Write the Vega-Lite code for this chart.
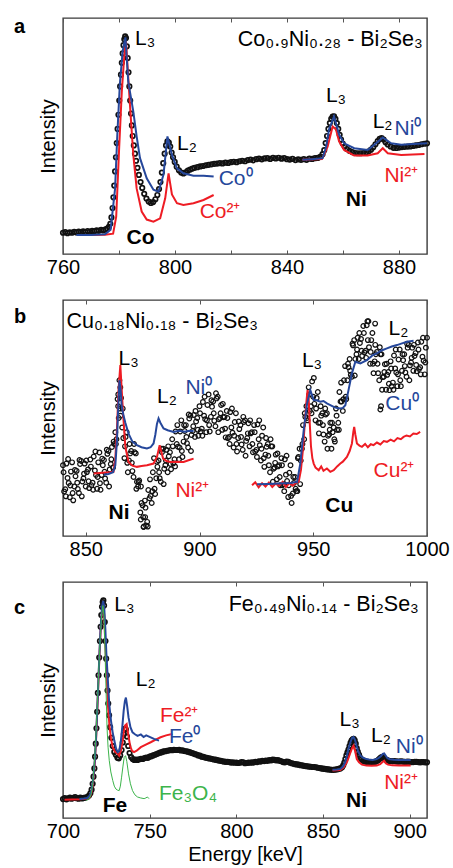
{
"$schema":"https://vega.github.io/schema/vega-lite/v6.json",
"padding":{"left":13,"top":16,"right":10,"bottom":5},
"spacing":46,
"bounds":"flush",
"config":{"font":"Liberation Sans","view":{"stroke":"#3a3a3a","strokeWidth":1.4},
"axis":{"domain":false,"grid":false,"labelFont":"Liberation Sans","labelFontSize":20,"labelColor":"#000","tickColor":"#555","tickWidth":1,"titleFont":"Liberation Sans","titleFontSize":20,"titleFontWeight":"normal","titleColor":"#000"},
"text":{"font":"Liberation Sans"}},
"datasets":{
"aP":[{"e":760,"i":9.0},{"e":760.8,"i":9.3},{"e":761.6,"i":8.8},{"e":762.4,"i":9.2},{"e":763.2,"i":9.0},{"e":764,"i":9.4},{"e":764.8,"i":9.1},{"e":765.6,"i":9.5},{"e":766.4,"i":9.2},{"e":767.2,"i":9.6},{"e":768,"i":9.3},{"e":768.8,"i":9.7},{"e":769.6,"i":9.4},{"e":770.4,"i":9.8},{"e":771.2,"i":9.6},{"e":772,"i":10.0},{"e":772.8,"i":9.8},{"e":773.6,"i":10.2},{"e":774.4,"i":10.0},{"e":775.2,"i":10.4},{"e":775.8,"i":10.8},{"e":776.4,"i":11.5},{"e":776.9,"i":12.8},{"e":777.3,"i":15.5},{"e":777.7,"i":19.5},{"e":778.0,"i":24},{"e":778.3,"i":29},{"e":778.6,"i":35},{"e":778.9,"i":41},{"e":779.2,"i":47},{"e":779.5,"i":53},{"e":779.8,"i":59},{"e":780.1,"i":65},{"e":780.4,"i":71},{"e":780.7,"i":76},{"e":781.0,"i":81},{"e":781.3,"i":85},{"e":781.6,"i":88.5},{"e":781.9,"i":91},{"e":782.2,"i":92.2},{"e":782.5,"i":91.5},{"e":782.8,"i":88},{"e":783.1,"i":83},{"e":783.4,"i":77},{"e":783.7,"i":71},{"e":784.0,"i":65},{"e":784.3,"i":59.5},{"e":784.6,"i":54.5},{"e":784.9,"i":50},{"e":785.3,"i":46},{"e":785.7,"i":42.5},{"e":786.1,"i":39.5},{"e":786.6,"i":36.5},{"e":787.1,"i":33.5},{"e":787.7,"i":30.5},{"e":788.3,"i":28},{"e":789,"i":25.5},{"e":789.8,"i":23.5},{"e":790.6,"i":22.2},{"e":791.4,"i":21.6},{"e":792.2,"i":22.0},{"e":793,"i":23.2},{"e":793.7,"i":25},{"e":794.3,"i":27.5},{"e":794.8,"i":30.5},{"e":795.3,"i":34.5},{"e":795.8,"i":38.5},{"e":796.3,"i":42.5},{"e":796.8,"i":46},{"e":797.3,"i":47.7},{"e":797.8,"i":47.2},{"e":798.3,"i":45.5},{"e":798.8,"i":43},{"e":799.3,"i":41},{"e":799.9,"i":39},{"e":800.6,"i":37},{"e":801.4,"i":35.5},{"e":802.2,"i":34.5},{"e":803,"i":34.1},{"e":803.8,"i":34.6},{"e":804.6,"i":35.3},{"e":805.4,"i":35.8},{"e":806.2,"i":36.2},{"e":807,"i":36.5},{"e":808,"i":36.8},{"e":809,"i":37.1},{"e":810,"i":37.3},{"e":811,"i":37.6},{"e":812,"i":37.8},{"e":813,"i":38.0},{"e":814,"i":38.2},{"e":815,"i":38.3},{"e":816,"i":38.5},{"e":817,"i":38.4},{"e":818,"i":38.7},{"e":819,"i":38.6},{"e":820,"i":38.9},{"e":821,"i":39.1},{"e":822,"i":38.9},{"e":823,"i":39.3},{"e":824,"i":39.5},{"e":825,"i":39.3},{"e":826,"i":39.8},{"e":827,"i":40.0},{"e":828,"i":39.7},{"e":829,"i":40.2},{"e":830,"i":40.4},{"e":831,"i":40.1},{"e":832,"i":40.5},{"e":833,"i":40.6},{"e":834,"i":40.3},{"e":835,"i":40.7},{"e":836,"i":40.5},{"e":837,"i":40.8},{"e":838,"i":40.4},{"e":839,"i":40.6},{"e":840,"i":40.2},{"e":841,"i":40.0},{"e":842,"i":40.3},{"e":843,"i":39.8},{"e":844,"i":40.1},{"e":845,"i":39.9},{"e":846,"i":40.2},{"e":847,"i":39.9},{"e":848,"i":40.4},{"e":849,"i":40.3},{"e":850,"i":40.6},{"e":851,"i":40.7},{"e":852,"i":41.3},{"e":852.7,"i":42.3},{"e":853.3,"i":44},{"e":853.8,"i":47},{"e":854.3,"i":50},{"e":854.8,"i":53},{"e":855.3,"i":55.5},{"e":855.8,"i":57.3},{"e":856.3,"i":58.2},{"e":856.8,"i":58.3},{"e":857.3,"i":57.3},{"e":857.8,"i":55.5},{"e":858.3,"i":53},{"e":858.8,"i":50.5},{"e":859.3,"i":48.5},{"e":859.9,"i":46.8},{"e":860.6,"i":45.5},{"e":861.4,"i":44.5},{"e":862.3,"i":43.7},{"e":863.3,"i":43.2},{"e":864.3,"i":42.8},{"e":865.3,"i":42.7},{"e":866.3,"i":42.7},{"e":867.3,"i":42.8},{"e":868.3,"i":43.0},{"e":869.2,"i":43.5},{"e":870,"i":44.2},{"e":870.8,"i":45.2},{"e":871.6,"i":46.5},{"e":872.4,"i":47.8},{"e":873.1,"i":48.8},{"e":873.8,"i":49.1},{"e":874.5,"i":48.5},{"e":875.2,"i":47.3},{"e":876,"i":46.4},{"e":877,"i":45.6},{"e":878,"i":45.0},{"e":879,"i":44.9},{"e":880,"i":45.1},{"e":881,"i":45.3},{"e":882,"i":45.4},{"e":883,"i":45.5},{"e":884,"i":45.6},{"e":885,"i":45.8},{"e":886,"i":46.0},{"e":887,"i":46.2},{"e":888,"i":46.5},{"e":889,"i":46.7},{"e":890,"i":46.9}],
"aL":[{"s":"Co2+","e":769.6,"i":8.1},{"s":"Co2+","e":775,"i":8.2},{"s":"Co2+","e":777.9,"i":8.6},{"s":"Co2+","e":779,"i":15.8},{"s":"Co2+","e":780,"i":43.4},{"s":"Co2+","e":781,"i":68.9},{"s":"Co2+","e":782,"i":85.8},{"s":"Co2+","e":782.5,"i":90.1},{"s":"Co2+","e":783.9,"i":63.4},{"s":"Co2+","e":785.1,"i":42.1},{"s":"Co2+","e":786.3,"i":27.8},{"s":"Co2+","e":788.1,"i":18.0},{"s":"Co2+","e":789.9,"i":14.6},{"s":"Co2+","e":792.3,"i":13.7},{"s":"Co2+","e":794.7,"i":15.1},{"s":"Co2+","e":796.5,"i":23.6},{"s":"Co2+","e":797.7,"i":34.2},{"s":"Co2+","e":798.9,"i":25.2},{"s":"Co2+","e":800.7,"i":21.5},{"s":"Co2+","e":803,"i":20.8},{"s":"Co2+","e":806.6,"i":21.5},{"s":"Co2+","e":810.2,"i":22.9},{"s":"Co2+","e":813.8,"i":25.0},
{"s":"Co0","e":764.8,"i":8.1},{"s":"Co0","e":770,"i":8.1},{"s":"Co0","e":775,"i":8.4},{"s":"Co0","e":777,"i":10.3},{"s":"Co0","e":778.6,"i":27.7},{"s":"Co0","e":779.4,"i":50.6},{"s":"Co0","e":780.3,"i":71.9},{"s":"Co0","e":781.3,"i":85.8},{"s":"Co0","e":782.3,"i":91.8},{"s":"Co0","e":783.3,"i":73},{"s":"Co0","e":785.1,"i":60.4},{"s":"Co0","e":786.3,"i":49.8},{"s":"Co0","e":787.5,"i":40.6},{"s":"Co0","e":789.9,"i":32.1},{"s":"Co0","e":792.3,"i":27.2},{"s":"Co0","e":794.1,"i":26.4},{"s":"Co0","e":795.9,"i":33.7},{"s":"Co0","e":797.3,"i":49.8},{"s":"Co0","e":798.9,"i":42.1},{"s":"Co0","e":800.7,"i":36.3},{"s":"Co0","e":803,"i":34.2},{"s":"Co0","e":806.6,"i":33.2},{"s":"Co0","e":810.2,"i":33.2},{"s":"Co0","e":813.8,"i":32.8},
{"s":"Ni2+","e":845.5,"i":39.9},{"s":"Ni2+","e":852.5,"i":40.2},{"s":"Ni2+","e":854.5,"i":45.5},{"s":"Ni2+","e":856.3,"i":54.0},{"s":"Ni2+","e":857.5,"i":52.8},{"s":"Ni2+","e":858.6,"i":47.7},{"s":"Ni2+","e":860.4,"i":44.1},{"s":"Ni2+","e":864,"i":41.7},{"s":"Ni2+","e":868.8,"i":41.7},{"s":"Ni2+","e":872.4,"i":42.7},{"s":"Ni2+","e":874.2,"i":44.8},{"s":"Ni2+","e":876,"i":42.7},{"s":"Ni2+","e":880.8,"i":42.0},{"s":"Ni2+","e":889.1,"i":42.4},
{"s":"Ni0","e":845.5,"i":39.9},{"s":"Ni0","e":849,"i":40.2},{"s":"Ni0","e":852.7,"i":40.6},{"s":"Ni0","e":854,"i":45.5},{"s":"Ni0","e":855,"i":52.8},{"s":"Ni0","e":856.8,"i":58.3},{"s":"Ni0","e":858.6,"i":50.6},{"s":"Ni0","e":860.4,"i":46.9},{"s":"Ni0","e":864,"i":44.8},{"s":"Ni0","e":868.8,"i":44.1},{"s":"Ni0","e":871.2,"i":46.3},{"s":"Ni0","e":874.2,"i":49.4},{"s":"Ni0","e":877.2,"i":46.9},{"s":"Ni0","e":880.8,"i":46.3},{"s":"Ni0","e":885,"i":46.6},{"s":"Ni0","e":890,"i":46.9}],
"bP":[{"e":840,"i":30},{"e":841,"i":19.8},{"e":842,"i":24.6},{"e":843,"i":16.4},{"e":844,"i":31.2},{"e":845,"i":21},{"e":846,"i":27.6},{"e":847,"i":18.2},{"e":848,"i":31.8},{"e":849,"i":24.4},{"e":850,"i":21},{"e":851,"i":28.2},{"e":852,"i":32.4},{"e":853,"i":22.6},{"e":854,"i":27.8},{"e":855,"i":20},{"e":856,"i":35.4},{"e":857,"i":25.8},{"e":858,"i":32.2},{"e":859,"i":22.6},{"e":860,"i":36},{"e":861,"i":30.5},{"e":862,"i":29},{"e":863,"i":44},{"e":864,"i":58},{"e":865,"i":54},{"e":866,"i":46},{"e":867,"i":33},{"e":868,"i":44},{"e":869,"i":32},{"e":870,"i":36},{"e":871,"i":25},{"e":872,"i":35},{"e":873,"i":21},{"e":874,"i":10},{"e":875,"i":13},{"e":876,"i":15},{"e":877,"i":6},{"e":878,"i":16},{"e":879,"i":14},{"e":880,"i":33},{"e":881,"i":24.5},{"e":882,"i":32},{"e":883,"i":23},{"e":884,"i":37},{"e":885,"i":30},{"e":886,"i":27},{"e":887,"i":35.5},{"e":888,"i":41},{"e":889,"i":32.5},{"e":890,"i":39},{"e":891,"i":32.5},{"e":892,"i":49},{"e":893,"i":40},{"e":894,"i":47},{"e":895,"i":37.5},{"e":896,"i":51},{"e":897,"i":44.5},{"e":898,"i":42},{"e":899,"i":50},{"e":900,"i":55},{"e":901,"i":45.5},{"e":902,"i":51},{"e":903,"i":44},{"e":904,"i":60},{"e":905,"i":50.5},{"e":906,"i":57},{"e":907,"i":46.5},{"e":908,"i":59},{"e":909,"i":50},{"e":910,"i":45},{"e":911,"i":50.5},{"e":912,"i":53},{"e":913,"i":42},{"e":914,"i":46},{"e":915,"i":37.5},{"e":916,"i":52},{"e":917,"i":41.5},{"e":918,"i":47},{"e":919,"i":36.5},{"e":920,"i":49},{"e":921,"i":41.5},{"e":922,"i":38},{"e":923,"i":44},{"e":924,"i":47},{"e":925,"i":36.5},{"e":926,"i":41},{"e":927,"i":32},{"e":928,"i":46},{"e":929,"i":34.5},{"e":930,"i":39},{"e":931,"i":27},{"e":932,"i":38},{"e":933,"i":29},{"e":934,"i":24},{"e":935,"i":30},{"e":936,"i":33},{"e":937,"i":22},{"e":938,"i":26},{"e":939,"i":16.5},{"e":940,"i":30},{"e":941,"i":18},{"e":942,"i":25},{"e":943,"i":19},{"e":944,"i":37},{"e":945,"i":37},{"e":946,"i":41},{"e":947,"i":55},{"e":948,"i":63},{"e":949,"i":55},{"e":950,"i":59},{"e":951,"i":49},{"e":952,"i":61},{"e":953,"i":48},{"e":954,"i":52},{"e":955,"i":40},{"e":956,"i":52},{"e":957,"i":43},{"e":958,"i":37},{"e":959,"i":46},{"e":960,"i":54},{"e":961,"i":48},{"e":962,"i":57},{"e":963,"i":53},{"e":964,"i":72},{"e":965,"i":66},{"e":966,"i":75},{"e":967,"i":67.5},{"e":968,"i":83},{"e":969,"i":77},{"e":970,"i":75},{"e":971,"i":83.5},{"e":972,"i":89},{"e":973,"i":78.5},{"e":974,"i":83},{"e":975,"i":73},{"e":976,"i":86},{"e":977,"i":74},{"e":978,"i":78},{"e":979,"i":66},{"e":980,"i":77},{"e":981,"i":67.5},{"e":982,"i":62},{"e":983,"i":69.5},{"e":984,"i":74},{"e":985,"i":65},{"e":986,"i":71},{"e":987,"i":63.5},{"e":988,"i":79},{"e":989,"i":70},{"e":990,"i":77},{"e":991,"i":67.5},{"e":992,"i":81},{"e":993,"i":73.5},{"e":994,"i":70},{"e":995,"i":77.5},{"e":996,"i":82},{"e":997,"i":71.5},{"e":998,"i":76},{"e":999,"i":68.5},{"e":1000,"i":84},
{"e":840.5,"i":18.9},{"e":841.5,"i":30.7},{"e":842.5,"i":22.5},{"e":843.5,"i":27.3},{"e":844.5,"i":15.1},{"e":845.5,"i":25.3},{"e":846.5,"i":19.9},{"e":847.5,"i":30.5},{"e":848.5,"i":23.1},{"e":849.5,"i":30.7},{"e":850.5,"i":27.1},{"e":851.5,"i":20.3},{"e":852.5,"i":21.5},{"e":853.5,"i":33.7},{"e":854.5,"i":25.9},{"e":855.5,"i":31.2},{"e":856.5,"i":19.6},{"e":857.5,"i":30},{"e":858.5,"i":24.4},{"e":859.5,"i":34.8},{"e":860.5,"i":28.2},{"e":861.5,"i":37.7},{"e":862.5,"i":39},{"e":863.5,"i":41},{"e":864.5,"i":50},{"e":865.5,"i":58.5},{"e":866.5,"i":41.5},{"e":867.5,"i":42},{"e":868.5,"i":27},{"e":869.5,"i":35},{"e":870.5,"i":27.5},{"e":871.5,"i":35.5},{"e":872.5,"i":23},{"e":873.5,"i":23.5},{"e":874.5,"i":14},{"e":875.5,"i":4},{"e":876.5,"i":4.5},{"e":877.5,"i":19.5},{"e":878.5,"i":17},{"e":879.5,"i":27},{"e":880.5,"i":17.8},{"e":881.5,"i":29.3},{"e":882.5,"i":24.5},{"e":883.5,"i":35.5},{"e":884.5,"i":28.5},{"e":885.5,"i":36.5},{"e":886.5,"i":33.8},{"e":887.5,"i":28.3},{"e":888.5,"i":30.8},{"e":889.5,"i":44.3},{"e":890.5,"i":37.8},{"e":891.5,"i":44.3},{"e":892.5,"i":33.5},{"e":893.5,"i":44.5},{"e":894.5,"i":39.3},{"e":895.5,"i":49.8},{"e":896.5,"i":42.8},{"e":897.5,"i":51.3},{"e":898.5,"i":48.5},{"e":899.5,"i":42.5},{"e":900.5,"i":44.3},{"e":901.5,"i":56.8},{"e":902.5,"i":49.5},{"e":903.5,"i":55.5},{"e":904.5,"i":44.3},{"e":905.5,"i":54.8},{"e":906.5,"i":48.8},{"e":907.5,"i":58.3},{"e":908.5,"i":49.5},{"e":909.5,"i":55.5},{"e":910.5,"i":50.3},{"e":911.5,"i":41.8},{"e":912.5,"i":41.5},{"e":913.5,"i":52.5},{"e":914.5,"i":43.8},{"e":915.5,"i":48.3},{"e":916.5,"i":35.8},{"e":917.5,"i":45.3},{"e":918.5,"i":38.8},{"e":919.5,"i":48.3},{"e":920.5,"i":40.3},{"e":921.5,"i":47.8},{"e":922.5,"i":43.5},{"e":923.5,"i":35.5},{"e":924.5,"i":35.8},{"e":925.5,"i":47.3},{"e":926.5,"i":38.5},{"e":927.5,"i":42.5},{"e":928.5,"i":29.3},{"e":929.5,"i":37.8},{"e":930.5,"i":30},{"e":931.5,"i":38},{"e":932.5,"i":28.5},{"e":933.5,"i":34.5},{"e":934.5,"i":29.5},{"e":935.5,"i":21.5},{"e":936.5,"i":21.5},{"e":937.5,"i":32.5},{"e":938.5,"i":23.3},{"e":939.5,"i":26.8},{"e":940.5,"i":14},{"e":941.5,"i":22.5},{"e":942.5,"i":19},{"e":943.5,"i":33.5},{"e":944.5,"i":32},{"e":945.5,"i":47},{"e":946.5,"i":50.5},{"e":947.5,"i":49},{"e":948.5,"i":53},{"e":949.5,"i":65.5},{"e":950.5,"i":56},{"e":951.5,"i":58.5},{"e":952.5,"i":43.5},{"e":953.5,"i":51},{"e":954.5,"i":43},{"e":955.5,"i":51.5},{"e":956.5,"i":42.5},{"e":957.5,"i":48},{"e":958.5,"i":44},{"e":959.5,"i":40},{"e":960.5,"i":45},{"e":961.5,"i":61},{"e":962.5,"i":57},{"e":963.5,"i":66},{"e":964.5,"i":58},{"e":965.5,"i":71.5},{"e":966.5,"i":68.3},{"e":967.5,"i":80.8},{"e":968.5,"i":75},{"e":969.5,"i":84},{"e":970.5,"i":81.8},{"e":971.5,"i":76.3},{"e":972.5,"i":77.8},{"e":973.5,"i":89.3},{"e":974.5,"i":80},{"e":975.5,"i":83},{"e":976.5,"i":69},{"e":977.5,"i":77},{"e":978.5,"i":69},{"e":979.5,"i":77},{"e":980.5,"i":67.3},{"e":981.5,"i":72.8},{"e":982.5,"i":68.3},{"e":983.5,"i":61.8},{"e":984.5,"i":63.5},{"e":985.5,"i":76.5},{"e":986.5,"i":69.3},{"e":987.5,"i":74.8},{"e":988.5,"i":63.5},{"e":989.5,"i":74.5},{"e":990.5,"i":69.3},{"e":991.5,"i":79.8},{"e":992.5,"i":72.3},{"e":993.5,"i":79.8},{"e":994.5,"i":76.3},{"e":995.5,"i":69.8},{"e":996.5,"i":70.8},{"e":997.5,"i":82.3},{"e":998.5,"i":74.3},{"e":999.5,"i":79.8},
{"e":840.25,"i":27},{"e":841.25,"i":16.8},{"e":842.25,"i":32.6},{"e":843.25,"i":21.4},{"e":844.25,"i":18.2},{"e":845.25,"i":28},{"e":846.25,"i":22.6},{"e":847.25,"i":32.2},{"e":848.25,"i":16.8},{"e":849.25,"i":26.4},{"e":850.25,"i":32},{"e":851.25,"i":23.2},{"e":852.25,"i":29.4},{"e":853.25,"i":19.6},{"e":854.25,"i":35.8},{"e":855.25,"i":25},{"e":856.25,"i":22.4},{"e":857.25,"i":32.8},{"e":858.25,"i":27.2},{"e":859.25,"i":36.6},{"e":860.25,"i":21},{"e":861.25,"i":32.5},{"e":862.25,"i":40},{"e":863.25,"i":39},{"e":864.25,"i":55},{"e":865.25,"i":51},{"e":866.25,"i":54},{"e":867.25,"i":38},{"e":868.25,"i":31},{"e":869.25,"i":39},{"e":870.25,"i":31},{"e":871.25,"i":39},{"e":872.25,"i":20},{"e":873.25,"i":23},{"e":874.25,"i":21},{"e":875.25,"i":8},{"e":876.25,"i":12},{"e":877.25,"i":4},{"e":878.25,"i":24},{"e":879.25,"i":19},{"e":880.25,"i":20},{"e":881.25,"i":31.5},{"e":882.25,"i":27},{"e":883.25,"i":37},{"e":884.25,"i":22},{"e":885.25,"i":32},{"e":886.25,"i":38},{"e":887.25,"i":30.5},{"e":888.25,"i":38},{"e":889.25,"i":29.5},{"e":890.25,"i":47},{"e":891.25,"i":37.5},{"e":892.25,"i":36},{"e":893.25,"i":47},{"e":894.25,"i":42},{"e":895.25,"i":51.5},{"e":896.25,"i":36},{"e":897.25,"i":46.5},{"e":898.25,"i":53},{"e":899.25,"i":45},{"e":900.25,"i":52},{"e":901.25,"i":42.5},{"e":902.25,"i":59},{"e":903.25,"i":49},{"e":904.25,"i":47},{"e":905.25,"i":57.5},{"e":906.25,"i":52},{"e":907.25,"i":60.5},{"e":908.25,"i":44},{"e":909.25,"i":52},{"e":910.25,"i":56},{"e":911.25,"i":45.5},{"e":912.25,"i":50},{"e":913.25,"i":39},{"e":914.25,"i":54},{"e":915.25,"i":42.5},{"e":916.25,"i":39},{"e":917.25,"i":48.5},{"e":918.25,"i":42},{"e":919.25,"i":50.5},{"e":920.25,"i":34},{"e":921.25,"i":43.5},{"e":922.25,"i":49},{"e":923.25,"i":39},{"e":924.25,"i":44},{"e":925.25,"i":33.5},{"e":926.25,"i":49},{"e":927.25,"i":37},{"e":928.25,"i":33},{"e":929.25,"i":41.5},{"e":930.25,"i":34},{"e":931.25,"i":41},{"e":932.25,"i":23},{"e":933.25,"i":31},{"e":934.25,"i":35},{"e":935.25,"i":25},{"e":936.25,"i":30},{"e":937.25,"i":19},{"e":938.25,"i":34},{"e":939.25,"i":21.5},{"e":940.25,"i":17},{"e":941.25,"i":25},{"e":942.25,"i":20},{"e":943.25,"i":33},{"e":944.25,"i":22},{"e":945.25,"i":39},{"e":946.25,"i":52},{"e":947.25,"i":50},{"e":948.25,"i":60},{"e":949.25,"i":52},{"e":950.25,"i":67},{"e":951.25,"i":54},{"e":952.25,"i":48},{"e":953.25,"i":55},{"e":954.25,"i":47},{"e":955.25,"i":54},{"e":956.25,"i":37},{"e":957.25,"i":45},{"e":958.25,"i":48},{"e":959.25,"i":41},{"e":960.25,"i":51},{"e":961.25,"i":45},{"e":962.25,"i":65},{"e":963.25,"i":58},{"e":964.25,"i":59},{"e":965.25,"i":73},{"e":966.25,"i":70},{"e":967.25,"i":81.5},{"e":968.25,"i":68},{"e":969.25,"i":79},{"e":970.25,"i":86},{"e":971.25,"i":78.5},{"e":972.25,"i":86},{"e":973.25,"i":75.5},{"e":974.25,"i":91},{"e":975.25,"i":78},{"e":976.25,"i":73},{"e":977.25,"i":81},{"e":978.25,"i":73},{"e":979.25,"i":80},{"e":980.25,"i":62},{"e":981.25,"i":69.5},{"e":982.25,"i":73},{"e":983.25,"i":64.5},{"e":984.25,"i":71},{"e":985.25,"i":62},{"e":986.25,"i":79},{"e":987.25,"i":68.5},{"e":988.25,"i":66},{"e":989.25,"i":77},{"e":990.25,"i":72},{"e":991.25,"i":81.5},{"e":992.25,"i":66},{"e":993.25,"i":75.5},{"e":994.25,"i":81},{"e":995.25,"i":72.5},{"e":996.25,"i":79},{"e":997.25,"i":68.5},{"e":998.25,"i":84},{"e":999.25,"i":73.5},
{"e":864.8,"i":66},{"e":865.2,"i":63},{"e":864.3,"i":60},{"e":977.2,"i":90},{"e":973.8,"i":91},{"e":979.5,"i":53.6},{"e":979.8,"i":55},{"e":875.4,"i":3.8},{"e":874.2,"i":7},{"e":876.1,"i":8}],
"bL":[{"s":"Ni2+","e":853.5,"i":26.5},{"s":"Ni2+","e":856,"i":26.7},{"s":"Ni2+","e":858.5,"i":26.9},{"s":"Ni2+","e":860.5,"i":27.0},{"s":"Ni2+","e":862.2,"i":27.2},{"s":"Ni2+","e":863,"i":33},{"s":"Ni2+","e":863.7,"i":44.8},{"s":"Ni2+","e":864.4,"i":61.8},{"s":"Ni2+","e":865.2,"i":72.4},{"s":"Ni2+","e":865.8,"i":62},{"s":"Ni2+","e":866.4,"i":51.9},{"s":"Ni2+","e":867.4,"i":37.8},{"s":"Ni2+","e":868.8,"i":31.4},{"s":"Ni2+","e":870.5,"i":29.8},{"s":"Ni2+","e":872.5,"i":29.3},{"s":"Ni2+","e":874.5,"i":29.7},{"s":"Ni2+","e":876.9,"i":30.0},{"s":"Ni2+","e":879.8,"i":30.7},{"s":"Ni2+","e":881.3,"i":33.5},{"s":"Ni2+","e":882.5,"i":38.5},{"s":"Ni2+","e":884,"i":32.8},{"s":"Ni2+","e":885.5,"i":31.8},{"s":"Ni2+","e":887.2,"i":31.4},{"s":"Ni2+","e":890,"i":31.5},{"s":"Ni2+","e":893,"i":31.4},{"s":"Ni2+","e":895.5,"i":32.2},{"s":"Ni2+","e":897.4,"i":32.8},
{"s":"Ni0","e":858,"i":26},{"s":"Ni0","e":860,"i":26.3},{"s":"Ni0","e":862,"i":27},{"s":"Ni0","e":863,"i":30},{"s":"Ni0","e":863.7,"i":40},{"s":"Ni0","e":864.3,"i":55},{"s":"Ni0","e":864.8,"i":66},{"s":"Ni0","e":865.3,"i":62},{"s":"Ni0","e":865.8,"i":55},{"s":"Ni0","e":866.5,"i":51.5},{"s":"Ni0","e":867.4,"i":48},{"s":"Ni0","e":868.8,"i":43.4},{"s":"Ni0","e":870.5,"i":40},{"s":"Ni0","e":872.5,"i":38.5},{"s":"Ni0","e":874.5,"i":37.6},{"s":"Ni0","e":876.9,"i":37.1},{"s":"Ni0","e":878.5,"i":37.6},{"s":"Ni0","e":879.8,"i":39.2},{"s":"Ni0","e":880.6,"i":43},{"s":"Ni0","e":881.3,"i":47.5},{"s":"Ni0","e":882,"i":49.8},{"s":"Ni0","e":882.8,"i":48},{"s":"Ni0","e":884.2,"i":45.6},{"s":"Ni0","e":886,"i":44.8},{"s":"Ni0","e":888.6,"i":44.1},{"s":"Ni0","e":891,"i":44.6},{"s":"Ni0","e":893.5,"i":44.2},{"s":"Ni0","e":895.5,"i":44.6},{"s":"Ni0","e":897.4,"i":44.5},
{"s":"Cu2+","e":923.1,"i":21.5},{"s":"Cu2+","e":924.5,"i":22.8},{"s":"Cu2+","e":926,"i":20.6},{"s":"Cu2+","e":927.5,"i":22.4},{"s":"Cu2+","e":929,"i":21.0},{"s":"Cu2+","e":930.5,"i":22.6},{"s":"Cu2+","e":932,"i":20.8},{"s":"Cu2+","e":933.5,"i":22.2},{"s":"Cu2+","e":935,"i":21.2},{"s":"Cu2+","e":936.5,"i":22.9},{"s":"Cu2+","e":938,"i":20.7},{"s":"Cu2+","e":939.5,"i":22.5},{"s":"Cu2+","e":941,"i":21.3},{"s":"Cu2+","e":942.5,"i":22.7},{"s":"Cu2+","e":943.6,"i":23},{"s":"Cu2+","e":944.6,"i":28},{"s":"Cu2+","e":945.5,"i":37},{"s":"Cu2+","e":946.3,"i":48},{"s":"Cu2+","e":947,"i":57},{"s":"Cu2+","e":947.5,"i":61.8},{"s":"Cu2+","e":948,"i":58},{"s":"Cu2+","e":948.5,"i":47},{"s":"Cu2+","e":949,"i":38},{"s":"Cu2+","e":949.6,"i":33},{"s":"Cu2+","e":950.2,"i":30.7},{"s":"Cu2+","e":951,"i":29},{"s":"Cu2+","e":952.4,"i":27.9},{"s":"Cu2+","e":953.5,"i":29.5},{"s":"Cu2+","e":954.5,"i":27.6},{"s":"Cu2+","e":956,"i":28.6},{"s":"Cu2+","e":957.5,"i":27.2},{"s":"Cu2+","e":959,"i":27.9},{"s":"Cu2+","e":960.5,"i":29.5},{"s":"Cu2+","e":961.9,"i":30.7},{"s":"Cu2+","e":963,"i":31.5},{"s":"Cu2+","e":964.8,"i":33.5},{"s":"Cu2+","e":966,"i":36},{"s":"Cu2+","e":967,"i":39.2},{"s":"Cu2+","e":967.6,"i":44},{"s":"Cu2+","e":968,"i":46.2},{"s":"Cu2+","e":968.5,"i":43},{"s":"Cu2+","e":969.2,"i":39.2},{"s":"Cu2+","e":970.3,"i":38.3},{"s":"Cu2+","e":971.4,"i":37.8},{"s":"Cu2+","e":972.8,"i":39},{"s":"Cu2+","e":974,"i":37.6},{"s":"Cu2+","e":975.3,"i":38.9},{"s":"Cu2+","e":976.5,"i":38.5},{"s":"Cu2+","e":978,"i":39.6},{"s":"Cu2+","e":979.5,"i":38.8},{"s":"Cu2+","e":981,"i":40.2},{"s":"Cu2+","e":982.4,"i":39.9},{"s":"Cu2+","e":984,"i":40.8},{"s":"Cu2+","e":985.5,"i":40.1},{"s":"Cu2+","e":987,"i":41.5},{"s":"Cu2+","e":988.5,"i":41},{"s":"Cu2+","e":989.7,"i":42.0},{"s":"Cu2+","e":991,"i":42.6},{"s":"Cu2+","e":992.5,"i":42.2},{"s":"Cu2+","e":994,"i":43.4},{"s":"Cu2+","e":995.5,"i":43.2},{"s":"Cu2+","e":997,"i":44.1},
{"s":"Cu0","e":925.3,"i":21.9},{"s":"Cu0","e":930,"i":22.0},{"s":"Cu0","e":935,"i":22.2},{"s":"Cu0","e":940,"i":22.5},{"s":"Cu0","e":942.9,"i":22.9},{"s":"Cu0","e":944.3,"i":30.7},{"s":"Cu0","e":945.8,"i":44.8},{"s":"Cu0","e":947.3,"i":56.2},{"s":"Cu0","e":948.7,"i":61.8},{"s":"Cu0","e":950.2,"i":57.6},{"s":"Cu0","e":951.5,"i":57.5},{"s":"Cu0","e":953.1,"i":56.9},{"s":"Cu0","e":954.5,"i":57.2},{"s":"Cu0","e":956,"i":56.2},{"s":"Cu0","e":957.5,"i":55.5},{"s":"Cu0","e":959,"i":54.7},{"s":"Cu0","e":960.5,"i":54.2},{"s":"Cu0","e":961.9,"i":54.0},{"s":"Cu0","e":963,"i":54.3},{"s":"Cu0","e":964.1,"i":55.4},{"s":"Cu0","e":965.5,"i":61.8},{"s":"Cu0","e":967,"i":68.9},{"s":"Cu0","e":968.5,"i":73.8},{"s":"Cu0","e":970.7,"i":73.1},{"s":"Cu0","e":973.6,"i":74.5},{"s":"Cu0","e":976,"i":76.5},{"s":"Cu0","e":978,"i":77.4},{"s":"Cu0","e":980,"i":78.6},{"s":"Cu0","e":982.4,"i":79.5},{"s":"Cu0","e":984.5,"i":80.3},{"s":"Cu0","e":986.8,"i":80.9},{"s":"Cu0","e":989,"i":81.6},{"s":"Cu0","e":991.2,"i":82.3},{"s":"Cu0","e":994.1,"i":82.7}],
"cP":[{"e":700,"i":8.0},{"e":701,"i":8.4},{"e":702,"i":7.9},{"e":703,"i":8.3},{"e":704,"i":8.6},{"e":705,"i":8.2},{"e":706,"i":8.5},{"e":707,"i":8.9},{"e":708,"i":8.4},{"e":709,"i":8.2},{"e":710,"i":8.6},{"e":711,"i":8.3},{"e":712,"i":8.5},{"e":713,"i":8.7},{"e":714,"i":8.9},{"e":715,"i":9.5},{"e":715.8,"i":10.5},{"e":716.5,"i":12},{"e":717.1,"i":14.5},{"e":717.6,"i":17.5},{"e":718.1,"i":21},{"e":718.5,"i":26},{"e":718.9,"i":31.5},{"e":719.3,"i":38},{"e":719.7,"i":45},{"e":720.1,"i":53},{"e":720.5,"i":60.5},{"e":720.9,"i":68},{"e":721.3,"i":75},{"e":721.7,"i":81},{"e":722.1,"i":86},{"e":722.5,"i":89.5},{"e":722.9,"i":91.5},{"e":723.3,"i":92.2},{"e":723.7,"i":90},{"e":724.1,"i":83},{"e":724.5,"i":75},{"e":724.9,"i":67.5},{"e":725.3,"i":60.5},{"e":725.7,"i":54},{"e":726.1,"i":48.5},{"e":726.6,"i":43.5},{"e":727.2,"i":38.5},{"e":727.9,"i":34},{"e":728.7,"i":30.5},{"e":729.6,"i":28},{"e":730.5,"i":26.8},{"e":731.4,"i":25.5},{"e":732.2,"i":25.3},{"e":733,"i":26.5},{"e":733.8,"i":28.8},{"e":734.5,"i":32},{"e":735.1,"i":35.5},{"e":735.7,"i":37.8},{"e":736.3,"i":37.5},{"e":736.9,"i":34.5},{"e":737.6,"i":30.5},{"e":738.4,"i":27.5},{"e":739.3,"i":25.8},{"e":740.2,"i":25.0},{"e":741.1,"i":24.6},{"e":742,"i":24.8},{"e":743,"i":24.6},{"e":744,"i":24.9},{"e":745,"i":25.1},{"e":746,"i":25.0},{"e":747,"i":25.4},{"e":748,"i":25.6},{"e":749,"i":25.5},{"e":750,"i":26.0},{"e":751,"i":26.2},{"e":752,"i":26.5},{"e":753,"i":26.8},{"e":754,"i":27.1},{"e":755,"i":27.4},{"e":756,"i":27.7},{"e":757,"i":27.9},{"e":758,"i":28.2},{"e":759,"i":28.3},{"e":760,"i":28.5},{"e":761,"i":28.6},{"e":762,"i":28.8},{"e":763,"i":28.7},{"e":764,"i":28.9},{"e":765,"i":28.8},{"e":766,"i":28.8},{"e":767,"i":28.9},{"e":768,"i":28.6},{"e":769,"i":28.7},{"e":770,"i":28.4},{"e":771,"i":28.3},{"e":772,"i":28.1},{"e":773,"i":27.9},{"e":774,"i":27.6},{"e":775,"i":27.4},{"e":776,"i":27.1},{"e":777,"i":26.9},{"e":778,"i":26.5},{"e":779,"i":26.4},{"e":780,"i":26.0},{"e":781,"i":25.9},{"e":782,"i":25.6},{"e":783,"i":25.5},{"e":784,"i":25.3},{"e":785,"i":25.2},{"e":786,"i":25.0},{"e":787,"i":24.8},{"e":788,"i":24.7},{"e":789,"i":24.5},{"e":790,"i":24.3},{"e":791,"i":24.2},{"e":792,"i":24.0},{"e":793,"i":23.9},{"e":794,"i":23.8},{"e":795,"i":23.8},{"e":796,"i":23.7},{"e":797,"i":23.5},{"e":798,"i":23.6},{"e":799,"i":23.4},{"e":800,"i":23.5},{"e":801,"i":23.3},{"e":802,"i":23.4},{"e":803,"i":23.7},{"e":804,"i":23.6},{"e":805,"i":23.2},{"e":806,"i":23.3},{"e":807,"i":23.5},{"e":808,"i":23.4},{"e":809,"i":23.6},{"e":810,"i":23.5},{"e":811,"i":23.8},{"e":812,"i":23.7},{"e":813,"i":24.0},{"e":814,"i":23.9},{"e":815,"i":24.2},{"e":816,"i":24.1},{"e":817,"i":24.3},{"e":818,"i":24.2},{"e":819,"i":24.5},{"e":820,"i":24.4},{"e":821,"i":24.7},{"e":822,"i":24.6},{"e":823,"i":24.4},{"e":824,"i":24.5},{"e":825,"i":24.2},{"e":826,"i":24.0},{"e":827,"i":23.7},{"e":828,"i":23.6},{"e":829,"i":23.9},{"e":830,"i":23.8},{"e":831,"i":23.4},{"e":832,"i":23.2},{"e":833,"i":23.0},{"e":834,"i":22.8},{"e":835,"i":22.7},{"e":836,"i":22.6},{"e":837,"i":22.4},{"e":838,"i":22.3},{"e":839,"i":22.1},{"e":840,"i":22.0},{"e":841,"i":21.9},{"e":842,"i":21.8},{"e":843,"i":21.7},{"e":844,"i":21.6},{"e":845,"i":21.6},{"e":846,"i":21.5},{"e":847,"i":21.3},{"e":848,"i":21.2},{"e":849,"i":21.0},{"e":850,"i":20.9},{"e":851,"i":20.8},{"e":852,"i":20.7},{"e":853,"i":20.6},{"e":854,"i":20.5},{"e":855,"i":20.4},{"e":856,"i":20.4},{"e":857,"i":20.5},{"e":858,"i":20.6},{"e":859,"i":20.8},{"e":860,"i":21.0},{"e":861,"i":21.5},{"e":861.7,"i":22.3},{"e":862.3,"i":23.5},{"e":862.9,"i":25},{"e":863.5,"i":26.5},{"e":864.1,"i":27.8},{"e":864.7,"i":29},{"e":865.3,"i":30.5},{"e":865.9,"i":31.8},{"e":866.5,"i":32.8},{"e":867.1,"i":33.3},{"e":867.7,"i":33.5},{"e":868.3,"i":32.9},{"e":868.9,"i":31.5},{"e":869.5,"i":29.5},{"e":870.1,"i":28},{"e":870.8,"i":26.8},{"e":871.5,"i":25.5},{"e":872.3,"i":24.7},{"e":873.2,"i":24.2},{"e":874,"i":24.0},{"e":875,"i":23.8},{"e":876,"i":23.6},{"e":877,"i":23.5},{"e":878,"i":23.6},{"e":879,"i":23.7},{"e":880,"i":23.8},{"e":880.8,"i":24.0},{"e":881.5,"i":24.3},{"e":882.2,"i":24.7},{"e":882.8,"i":25.2},{"e":883.4,"i":25.6},{"e":884,"i":25.8},{"e":884.6,"i":25.7},{"e":885.2,"i":25.4},{"e":885.9,"i":24.9},{"e":886.5,"i":24.6},{"e":887.2,"i":24.4},{"e":888,"i":24.2},{"e":889,"i":24.1},{"e":890,"i":24.0},{"e":891,"i":24.1},{"e":892,"i":24.0},{"e":893,"i":23.9},{"e":894,"i":23.9},{"e":895,"i":24.0},{"e":896,"i":23.9},{"e":897,"i":23.8},{"e":898,"i":23.8},{"e":899,"i":23.9},{"e":900,"i":23.8},{"e":901,"i":23.7},{"e":902,"i":23.7},{"e":903,"i":23.8},{"e":904,"i":23.8},{"e":905,"i":23.7},{"e":906,"i":23.6},{"e":907,"i":23.7},{"e":908,"i":23.7},{"e":909,"i":23.6},{"e":910,"i":23.6}],
"cL":[{"s":"Fe2+","e":700.9,"i":7.7},{"s":"Fe2+","e":705,"i":7.8},{"s":"Fe2+","e":710,"i":7.9},{"s":"Fe2+","e":714,"i":8.2},{"s":"Fe2+","e":715.5,"i":9},{"s":"Fe2+","e":716.5,"i":11},{"s":"Fe2+","e":717.5,"i":16},{"s":"Fe2+","e":718.3,"i":23},{"s":"Fe2+","e":719,"i":32},{"s":"Fe2+","e":719.7,"i":44},{"s":"Fe2+","e":720.4,"i":57},{"s":"Fe2+","e":721.1,"i":70},{"s":"Fe2+","e":721.8,"i":81},{"s":"Fe2+","e":722.5,"i":88},{"s":"Fe2+","e":723.2,"i":90.5},{"s":"Fe2+","e":723.8,"i":86},{"s":"Fe2+","e":724.4,"i":74},{"s":"Fe2+","e":725.2,"i":60},{"s":"Fe2+","e":726,"i":47},{"s":"Fe2+","e":726.8,"i":39},{"s":"Fe2+","e":727.7,"i":33.5},{"s":"Fe2+","e":728.7,"i":30.0},{"s":"Fe2+","e":730,"i":28},{"s":"Fe2+","e":731.5,"i":27.2},{"s":"Fe2+","e":732.4,"i":26.4},{"s":"Fe2+","e":733.4,"i":28.5},{"s":"Fe2+","e":734.3,"i":32},{"s":"Fe2+","e":735,"i":36},{"s":"Fe2+","e":735.8,"i":39.2},{"s":"Fe2+","e":736.7,"i":39.8},{"s":"Fe2+","e":737.6,"i":35.5},{"s":"Fe2+","e":738.7,"i":30.6},{"s":"Fe2+","e":739.8,"i":28.5},{"s":"Fe2+","e":741,"i":27.9},{"s":"Fe2+","e":742.5,"i":28.5},{"s":"Fe2+","e":744.9,"i":30.0},{"s":"Fe2+","e":747.5,"i":31.0},{"s":"Fe2+","e":750.6,"i":32.1},{"s":"Fe2+","e":753.5,"i":33.2},{"s":"Fe2+","e":756.3,"i":34.2},{"s":"Fe2+","e":759.5,"i":35},{"s":"Fe2+","e":763,"i":35.6},
{"s":"Fe0","e":709.5,"i":8.1},{"s":"Fe0","e":712,"i":8.3},{"s":"Fe0","e":714,"i":8.5},{"s":"Fe0","e":715.5,"i":9.5},{"s":"Fe0","e":716.5,"i":12},{"s":"Fe0","e":717.5,"i":17},{"s":"Fe0","e":718.3,"i":24},{"s":"Fe0","e":719,"i":33},{"s":"Fe0","e":719.7,"i":45},{"s":"Fe0","e":720.4,"i":58},{"s":"Fe0","e":721.1,"i":71},{"s":"Fe0","e":721.8,"i":82},{"s":"Fe0","e":722.5,"i":89.5},{"s":"Fe0","e":723.2,"i":92},{"s":"Fe0","e":723.8,"i":89},{"s":"Fe0","e":724.4,"i":80.6},{"s":"Fe0","e":725,"i":70},{"s":"Fe0","e":725.8,"i":59.5},{"s":"Fe0","e":726.7,"i":48},{"s":"Fe0","e":727.7,"i":41.2},{"s":"Fe0","e":728.6,"i":36.5},{"s":"Fe0","e":729.6,"i":32.8},{"s":"Fe0","e":730.6,"i":29.5},{"s":"Fe0","e":731.5,"i":27.9},{"s":"Fe0","e":732.5,"i":28.5},{"s":"Fe0","e":733.4,"i":32.8},{"s":"Fe0","e":734.2,"i":38.5},{"s":"Fe0","e":735,"i":45.4},{"s":"Fe0","e":735.7,"i":49.5},{"s":"Fe0","e":736.3,"i":51.0},{"s":"Fe0","e":737,"i":47.5},{"s":"Fe0","e":737.8,"i":42.6},{"s":"Fe0","e":738.9,"i":38.5},{"s":"Fe0","e":740.1,"i":36.3},{"s":"Fe0","e":741.5,"i":35.5},{"s":"Fe0","e":743,"i":34.8},{"s":"Fe0","e":744.9,"i":35.4},{"s":"Fe0","e":746.5,"i":34.3},{"s":"Fe0","e":748,"i":35.0},{"s":"Fe0","e":750.6,"i":34.2},{"s":"Fe0","e":752.5,"i":33.5},{"s":"Fe0","e":755.4,"i":32.8},
{"s":"Ni2+","e":855.5,"i":20.1},{"s":"Ni2+","e":860,"i":20.3},{"s":"Ni2+","e":862,"i":21.5},{"s":"Ni2+","e":864,"i":24},{"s":"Ni2+","e":865.5,"i":27},{"s":"Ni2+","e":866.7,"i":29.5},{"s":"Ni2+","e":867.6,"i":30.6},{"s":"Ni2+","e":868.5,"i":28.5},{"s":"Ni2+","e":869.5,"i":25},{"s":"Ni2+","e":870.8,"i":23.6},{"s":"Ni2+","e":872.5,"i":22.6},{"s":"Ni2+","e":875,"i":22.2},{"s":"Ni2+","e":878,"i":22.1},{"s":"Ni2+","e":881,"i":22.2},{"s":"Ni2+","e":883,"i":22.8},{"s":"Ni2+","e":884.5,"i":23.8},{"s":"Ni2+","e":885.3,"i":24.3},{"s":"Ni2+","e":886.2,"i":23.2},{"s":"Ni2+","e":887.5,"i":22.6},{"s":"Ni2+","e":890,"i":22.3},{"s":"Ni2+","e":894,"i":22.2},{"s":"Ni2+","e":897,"i":22.2},{"s":"Ni2+","e":900.6,"i":22.2},
{"s":"Ni0","e":855.5,"i":20.4},{"s":"Ni0","e":858,"i":20.6},{"s":"Ni0","e":860,"i":20.8},{"s":"Ni0","e":861.5,"i":21.8},{"s":"Ni0","e":862.7,"i":23.5},{"s":"Ni0","e":863.8,"i":26.5},{"s":"Ni0","e":864.8,"i":29.5},{"s":"Ni0","e":865.8,"i":32},{"s":"Ni0","e":866.7,"i":33.8},{"s":"Ni0","e":867.6,"i":34.3},{"s":"Ni0","e":868.5,"i":33},{"s":"Ni0","e":869.4,"i":30.5},{"s":"Ni0","e":870.3,"i":28.2},{"s":"Ni0","e":871.5,"i":26.5},{"s":"Ni0","e":872.8,"i":25.7},{"s":"Ni0","e":874.5,"i":25.1},{"s":"Ni0","e":876.5,"i":24.8},{"s":"Ni0","e":878.6,"i":24.6},{"s":"Ni0","e":880.5,"i":24.9},{"s":"Ni0","e":882,"i":25.4},{"s":"Ni0","e":883.5,"i":26.3},{"s":"Ni0","e":884.5,"i":27.2},{"s":"Ni0","e":885.3,"i":27.4},{"s":"Ni0","e":886.2,"i":26.4},{"s":"Ni0","e":887.2,"i":25.3},{"s":"Ni0","e":888.5,"i":24.9},{"s":"Ni0","e":891,"i":24.7},{"s":"Ni0","e":893.9,"i":24.6},{"s":"Ni0","e":897,"i":24.6},{"s":"Ni0","e":900.6,"i":24.6}],
"cG":[{"s":"Fe3O4","e":713.4,"i":7.5},{"s":"Fe3O4","e":715,"i":8.0},{"s":"Fe3O4","e":716.2,"i":10},{"s":"Fe3O4","e":717.2,"i":15},{"s":"Fe3O4","e":718,"i":22},{"s":"Fe3O4","e":718.8,"i":32},{"s":"Fe3O4","e":719.5,"i":43},{"s":"Fe3O4","e":720.2,"i":55},{"s":"Fe3O4","e":720.9,"i":67},{"s":"Fe3O4","e":721.6,"i":78},{"s":"Fe3O4","e":722.3,"i":86},{"s":"Fe3O4","e":723,"i":90},{"s":"Fe3O4","e":723.6,"i":86},{"s":"Fe3O4","e":724.2,"i":72},{"s":"Fe3O4","e":724.8,"i":55},{"s":"Fe3O4","e":725.4,"i":38.4},{"s":"Fe3O4","e":726,"i":30},{"s":"Fe3O4","e":726.7,"i":24.3},{"s":"Fe3O4","e":727.6,"i":19.5},{"s":"Fe3O4","e":728.7,"i":15.9},{"s":"Fe3O4","e":729.6,"i":13.5},{"s":"Fe3O4","e":730.5,"i":12.3},{"s":"Fe3O4","e":731.5,"i":11.8},{"s":"Fe3O4","e":732.4,"i":11.6},{"s":"Fe3O4","e":733.1,"i":13.5},{"s":"Fe3O4","e":733.8,"i":17.3},{"s":"Fe3O4","e":734.6,"i":22},{"s":"Fe3O4","e":735.3,"i":25.7},{"s":"Fe3O4","e":736.1,"i":26.4},{"s":"Fe3O4","e":736.8,"i":24},{"s":"Fe3O4","e":737.8,"i":18.7},{"s":"Fe3O4","e":738.9,"i":14.5},{"s":"Fe3O4","e":740.1,"i":11.6},{"s":"Fe3O4","e":741.5,"i":9.8},{"s":"Fe3O4","e":743,"i":8.9},{"s":"Fe3O4","e":744.8,"i":8.5},{"s":"Fe3O4","e":746.8,"i":8.2},{"s":"Fe3O4","e":747.8,"i":8.5},{"s":"Fe3O4","e":748.7,"i":8.9},{"s":"Fe3O4","e":749.6,"i":8.2}]
},
"vconcat":[
{"width":364,"height":236,
"resolve":{"axis":{"x":"independent"}},
"layer":[
{"data":{"name":"aP"},"mark":{"type":"point","shape":"circle","filled":false,"stroke":"#111","strokeWidth":1.7,"size":20,"opacity":1},
"encoding":{"x":{"field":"e","type":"quantitative","scale":{"domain":[760,890],"nice":false,"zero":false},"axis":{"orient":"bottom","title":null,"values":[760,780,800,820,840,860,880],"labelExpr":"datum.value % 40 == 0 ? datum.label : ''","tickSize":-4,"labelPadding":7,"labelFlush":false}},
"y":{"field":"i","type":"quantitative","scale":{"domain":[0,100],"nice":false,"zero":false},"axis":{"title":"Intensity","labels":false,"ticks":false,"titlePadding":5}}}},
{"data":{"name":"aL"},"mark":{"type":"line","strokeWidth":2},
"encoding":{"x":{"field":"e","type":"quantitative","axis":{"orient":"top","title":null,"labels":false,"values":[760,780,800,820,840,860,880],"tickSize":-4}},
"y":{"field":"i","type":"quantitative"},
"color":{"field":"s","type":"nominal","legend":null,"scale":{"domain":["k","Co0","Co2+","Ni0","Ni2+","Cu0","Cu2+","Fe0","Fe2+","Fe3O4"],"range":["#000000","#25479b","#ee1c24","#25479b","#ee1c24","#25479b","#ee1c24","#25479b","#ee1c24","#3cb44b"]}}}},
{"data":{"values":[{"e":785.7,"i":88.4,"t":"L₃","s":"k"},{"e":800.7,"i":44.1,"t":"L₂","s":"k"},{"e":815.6,"i":29.3,"t":"Co⁰","s":"Co0"},{"e":808.8,"i":15.4,"t":"Co²⁺","s":"Co2+"},{"e":853.9,"i":64.6,"t":"L₃","s":"k"},{"e":870.6,"i":53.3,"t":"L₂","s":"k"},{"e":878.4,"i":50.5,"t":"Ni⁰","s":"Ni0"},{"e":874.8,"i":30.3,"t":"Ni²⁺","s":"Ni2+"}]},
"mark":{"type":"text","align":"left","baseline":"alphabetic","fontSize":21},
"encoding":{"x":{"field":"e","type":"quantitative","axis":null},"y":{"field":"i","type":"quantitative"},"text":{"field":"t"},"color":{"field":"s","type":"nominal","legend":null}}},
{"data":{"values":[{"e":782.7,"i":4.1,"t":"Co"},{"e":861,"i":20.5,"t":"Ni"}]},
"mark":{"type":"text","align":"left","baseline":"alphabetic","fontSize":21,"fontWeight":"bold","color":"#000"},
"encoding":{"x":{"field":"e","type":"quantitative","axis":null},"y":{"field":"i","type":"quantitative"},"text":{"field":"t"}}},
{"data":{"values":[{"e":888.5,"i":88,"t":"Co₀.₉Ni₀.₂₈ - Bi₂Se₃"}]},
"mark":{"type":"text","align":"right","baseline":"alphabetic","fontSize":21.5,"color":"#000"},
"encoding":{"x":{"field":"e","type":"quantitative","axis":null},"y":{"field":"i","type":"quantitative"},"text":{"field":"t"}}},
{"data":{"values":[{"e":760,"i":93.6,"t":"a"}]},
"mark":{"type":"text","align":"left","baseline":"alphabetic","fontSize":20,"fontWeight":"bold","color":"#000","dx":-49},
"encoding":{"x":{"field":"e","type":"quantitative","axis":null},"y":{"field":"i","type":"quantitative"},"text":{"field":"t"}}}
]},
{"width":364,"height":236,
"resolve":{"axis":{"x":"independent"}},
"layer":[
{"data":{"name":"bP"},"mark":{"type":"point","shape":"circle","filled":false,"stroke":"#111","strokeWidth":1.2,"size":22,"opacity":1},
"encoding":{"x":{"field":"e","type":"quantitative","scale":{"domain":[840,1000],"nice":false,"zero":false},"axis":{"orient":"bottom","title":null,"values":[850,900,950,1000],"format":"d","tickSize":-4,"labelPadding":7,"labelFlush":false}},
"y":{"field":"i","type":"quantitative","scale":{"domain":[0,100],"nice":false,"zero":false},"axis":{"title":"Intensity","labels":false,"ticks":false,"titlePadding":5}}}},
{"data":{"name":"bL"},"mark":{"type":"line","strokeWidth":2},
"encoding":{"x":{"field":"e","type":"quantitative","axis":{"orient":"top","title":null,"labels":false,"values":[850,900,950,1000],"tickSize":-4}},
"y":{"field":"i","type":"quantitative"},
"color":{"field":"s","type":"nominal","legend":null,"scale":{"domain":["k","Co0","Co2+","Ni0","Ni2+","Cu0","Cu2+","Fe0","Fe2+","Fe3O4"],"range":["#000000","#25479b","#ee1c24","#25479b","#ee1c24","#25479b","#ee1c24","#25479b","#ee1c24","#3cb44b"]}}}},
{"data":{"values":[{"e":864.4,"i":72.4,"t":"L₃","s":"k"},{"e":881.3,"i":56.2,"t":"L₂","s":"k"},{"e":893.8,"i":60,"t":"Ni⁰","s":"Ni0"},{"e":889.4,"i":16.5,"t":"Ni²⁺","s":"Ni2+"},{"e":945,"i":71.4,"t":"L₃","s":"k"},{"e":983.1,"i":85.2,"t":"L₂","s":"k"},{"e":981.7,"i":53.6,"t":"Cu⁰","s":"Cu0"},{"e":976.5,"i":25,"t":"Cu²⁺","s":"Cu2+"}]},
"mark":{"type":"text","align":"left","baseline":"alphabetic","fontSize":21},
"encoding":{"x":{"field":"e","type":"quantitative","axis":null},"y":{"field":"i","type":"quantitative"},"text":{"field":"t"},"color":{"field":"s","type":"nominal","legend":null}}},
{"data":{"values":[{"e":860,"i":7.4,"t":"Ni"},{"e":955.3,"i":10.2,"t":"Cu"}]},
"mark":{"type":"text","align":"left","baseline":"alphabetic","fontSize":21,"fontWeight":"bold","color":"#000"},
"encoding":{"x":{"field":"e","type":"quantitative","axis":null},"y":{"field":"i","type":"quantitative"},"text":{"field":"t"}}},
{"data":{"values":[{"e":841.5,"i":88,"t":"Cu₀.₁₈Ni₀.₁₈ - Bi₂Se₃"}]},
"mark":{"type":"text","align":"left","baseline":"alphabetic","fontSize":21.5,"color":"#000"},
"encoding":{"x":{"field":"e","type":"quantitative","axis":null},"y":{"field":"i","type":"quantitative"},"text":{"field":"t"}}},
{"data":{"values":[{"e":840,"i":90.3,"t":"b"}]},
"mark":{"type":"text","align":"left","baseline":"alphabetic","fontSize":20,"fontWeight":"bold","color":"#000","dx":-49},
"encoding":{"x":{"field":"e","type":"quantitative","axis":null},"y":{"field":"i","type":"quantitative"},"text":{"field":"t"}}}
]},
{"width":364,"height":236,
"resolve":{"axis":{"x":"independent"}},
"layer":[
{"data":{"name":"cP"},"mark":{"type":"point","shape":"circle","filled":false,"stroke":"#111","strokeWidth":1.7,"size":20,"opacity":1},
"encoding":{"x":{"field":"e","type":"quantitative","scale":{"domain":[700,910],"nice":false,"zero":false},"axis":{"orient":"bottom","title":"Energy [keV]","titlePadding":3,"values":[700,750,800,850,900],"tickSize":-4,"labelPadding":7,"labelFlush":false}},
"y":{"field":"i","type":"quantitative","scale":{"domain":[0,100],"nice":false,"zero":false},"axis":{"title":"Intensity","labels":false,"ticks":false,"titlePadding":5}}}},
{"data":{"name":"cL"},"mark":{"type":"line","strokeWidth":2},
"encoding":{"x":{"field":"e","type":"quantitative","axis":{"orient":"top","title":null,"labels":false,"values":[700,750,800,850,900],"tickSize":-4}},
"y":{"field":"i","type":"quantitative"},
"color":{"field":"s","type":"nominal","legend":null,"scale":{"domain":["k","Co0","Co2+","Ni0","Ni2+","Cu0","Cu2+","Fe0","Fe2+","Fe3O4"],"range":["#000000","#25479b","#ee1c24","#25479b","#ee1c24","#25479b","#ee1c24","#25479b","#ee1c24","#3cb44b"]}}}},
{"data":{"name":"cG"},"mark":{"type":"line","strokeWidth":1},
"encoding":{"x":{"field":"e","type":"quantitative","axis":null},
"y":{"field":"i","type":"quantitative"},
"color":{"field":"s","type":"nominal","legend":null}}},
{"data":{"values":[{"e":729.6,"i":87.6,"t":"L₃","s":"k"},{"e":742,"i":56,"t":"L₂","s":"k"},{"e":755.9,"i":40.6,"t":"Fe²⁺","s":"Fe2+"},{"e":761.1,"i":31.8,"t":"Fe⁰","s":"Fe0"},{"e":755.4,"i":7.8,"t":"Fe₃O₄","s":"Fe3O4"},{"e":859.5,"i":39.1,"t":"L₃","s":"k"},{"e":877.7,"i":32.1,"t":"L₂","s":"k"},{"e":892,"i":27.4,"t":"Ni⁰","s":"Ni0"},{"e":885.3,"i":12.4,"t":"Ni²⁺","s":"Ni2+"}]},
"mark":{"type":"text","align":"left","baseline":"alphabetic","fontSize":21},
"encoding":{"x":{"field":"e","type":"quantitative","axis":null},"y":{"field":"i","type":"quantitative"},"text":{"field":"t"},"color":{"field":"s","type":"nominal","legend":null}}},
{"data":{"values":[{"e":722.9,"i":2.5,"t":"Fe"},{"e":863.3,"i":4.8,"t":"Ni"}]},
"mark":{"type":"text","align":"left","baseline":"alphabetic","fontSize":21,"fontWeight":"bold","color":"#000"},
"encoding":{"x":{"field":"e","type":"quantitative","axis":null},"y":{"field":"i","type":"quantitative"},"text":{"field":"t"}}},
{"data":{"values":[{"e":905.3,"i":87.6,"t":"Fe₀.₄₉Ni₀.₁₄ - Bi₂Se₃"}]},
"mark":{"type":"text","align":"right","baseline":"alphabetic","fontSize":21.5,"color":"#000"},
"encoding":{"x":{"field":"e","type":"quantitative","axis":null},"y":{"field":"i","type":"quantitative"},"text":{"field":"t"}}},
{"data":{"values":[{"e":700,"i":86.5,"t":"c"}]},
"mark":{"type":"text","align":"left","baseline":"alphabetic","fontSize":20,"fontWeight":"bold","color":"#000","dx":-49},
"encoding":{"x":{"field":"e","type":"quantitative","axis":null},"y":{"field":"i","type":"quantitative"},"text":{"field":"t"}}}
]}
]
}
